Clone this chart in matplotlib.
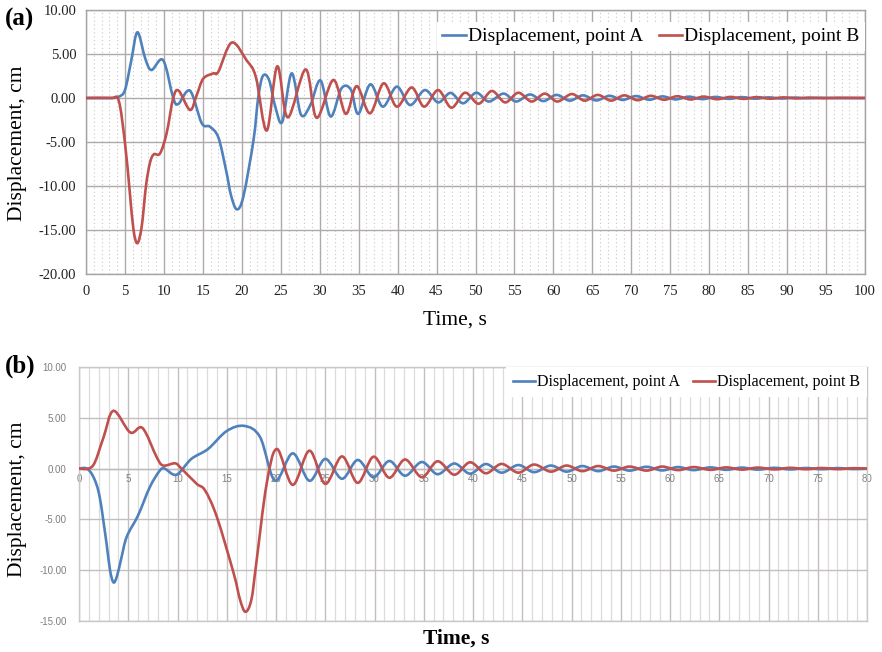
import numpy as np
import matplotlib
matplotlib.use("Agg")
import matplotlib.pyplot as plt
from matplotlib.path import Path
from matplotlib.patches import PathPatch
from matplotlib.lines import Line2D

# ---------------- data ----------------
# Panel (a)
a_t_A = [0, 3.2, 4.2, 5.0, 5.8, 6.6, 7.6, 8.4, 9.9, 11.2, 11.85, 13.35, 14.85, 15.9,
         17.0, 18.0, 18.6, 19.35, 20.2, 21.5, 22.1, 22.7, 23.5, 24.3, 25.2, 26.4, 27.6,
         28.8, 30.1, 31.4, 32.8, 34.0, 34.95, 36.5, 38.1, 39.9, 41.6, 43.5, 45.2, 46.8,
         48.4, 50.1, 51.7, 53.6, 55.2, 57.0, 58.7, 60.4, 62.1, 63.8, 65.5, 67.2, 68.9,
         70.6, 72.3, 74.0, 75.7, 77.4, 79.1, 80.8, 82.5, 84.2, 85.9, 87.6, 89.3, 91.0,
         92.7, 94.4, 96.1, 100]
a_v_A = [0, 0, 0.15, 0.9, 4.2, 7.47, 4.5, 3.18, 4.3, 0.0, -0.68, 0.83, -2.85, -3.26,
         -4.5, -8.3, -11.0, -12.65, -11.2, -4.8, 0.0, 2.5, 2.05, -1.0, -2.7, 2.8, -1.9,
         -0.8, 2.0, -2.1, 1.1, 0.95, -1.8, 1.55, -0.98, 1.29, -0.8, 0.9, -0.5, 0.58, -0.6,
         0.6, -0.4, 0.5, -0.4, 0.4, -0.35, 0.35, -0.3, 0.3, -0.28, 0.25, -0.22, 0.22,
         -0.2, 0.18, -0.16, 0.15, -0.13, 0.12, -0.1, 0.1, -0.08, 0.07, -0.06, 0.05, -0.04,
         0.03, -0.02, 0]

a_t_B = [0, 3.2, 4.2, 5.0, 5.6, 6.1, 6.6, 7.15, 7.7, 8.2, 8.7, 9.5, 10.35, 11.2, 11.9,
         13.35, 14.2, 15.05, 16.35, 17.0, 18.7, 20.6, 21.8, 23.2, 24.55, 25.9, 28.2, 29.6,
         31.75, 33.35, 34.75, 36.45, 38.2, 39.9, 41.8, 43.4, 45.2, 46.9, 48.65, 50.4,
         52.1, 53.8, 55.5, 57.2, 58.9, 60.5, 62.35, 64.0, 65.7, 67.4, 69.1, 70.8, 72.5,
         74.2, 75.9, 77.6, 79.3, 81.0, 82.7, 84.4, 86.1, 87.8, 89.5, 91.2, 92.9, 94.6,
         96.3, 100]
a_v_B = [0, 0, -0.3, -5.1, -10.5, -15.0, -16.5, -14.6, -10.0, -7.4, -6.4, -6.3, -4.0,
         0.0, 0.83, -1.36, 0.3, 2.2, 2.8, 3.0, 6.3, 4.3, 2.4, -3.7, 3.6, -2.2, 3.25,
         -2.25, 2.05, -1.8, 1.35, -1.74, 1.67, -0.98, 1.2, -0.98, 0.9, -1.1, 0.6, -0.65,
         0.8, -0.5, 0.6, -0.4, 0.5, -0.4, 0.45, -0.3, 0.35, -0.3, 0.3, -0.25, 0.25, -0.2,
         0.2, -0.17, 0.16, -0.14, 0.12, -0.1, 0.1, -0.08, 0.07, -0.05, 0.05, -0.03, 0.03,
         0]

# Panel (b)
b_t_A = [0, 0.8, 1.5, 2.1, 2.8, 3.15, 3.5, 3.85, 4.3, 4.85, 6.0, 7.2, 8.2, 8.7, 9.9,
         11.4, 13.1, 15.0, 16.8, 18.4, 19.9, 21.7, 23.4, 25.0, 26.7, 28.3, 29.9, 31.5,
         33.1, 34.8, 36.4, 38.1, 39.7, 41.3, 42.9, 44.6, 46.2, 47.9, 49.5, 51.1, 52.7,
         54.3, 55.9, 57.6, 59.2, 60.8, 62.4, 64.1, 65.7, 67.3, 68.9, 70.6, 72.2, 73.8,
         75.4, 77.0, 78.6, 80]
b_v_A = [0, 0, -0.9, -2.8, -7.4, -10.0, -11.2, -10.6, -8.8, -6.7, -4.6, -1.8, -0.2, 0.0,
         -0.6, 0.95, 1.93, 3.7, 4.2, 3.07, -1.18, 1.5, -1.2, 0.95, -1.0, 0.85, -0.85,
         0.75, -0.7, 0.65, -0.55, 0.5, -0.5, 0.45, -0.4, 0.35, -0.35, 0.3, -0.3, 0.25,
         -0.25, 0.2, -0.2, 0.18, -0.18, 0.15, -0.15, 0.12, -0.12, 0.1, -0.1, 0.08, -0.08,
         0.06, -0.06, 0.05, -0.04, 0]

b_t_B = [0, 0.95, 1.6, 2.5, 3.5, 5.2, 6.45, 7.9, 8.55, 9.75, 10.4, 11.95, 12.8, 14.0,
         15.7, 16.35, 16.9, 17.5, 18.0, 19.05, 20.1, 21.7, 23.4, 25.0, 26.7, 28.3, 29.9,
         31.5, 33.1, 34.8, 36.4, 38.1, 39.7, 41.3, 42.9, 44.6, 46.2, 47.9, 49.5, 51.1,
         52.7, 54.3, 55.9, 57.6, 59.2, 60.8, 62.4, 64.1, 65.7, 67.3, 68.9, 70.6, 72.2,
         73.8, 75.4, 77.0, 78.6, 80]
b_v_B = [0, 0, 0.6, 3.1, 5.69, 3.56, 3.99, 1.1, 0.3, 0.52, 0.0, -1.5, -2.15, -4.77,
         -10.3, -12.9, -14.1, -12.9, -9.3, -1.5, 1.93, -1.6, 1.76, -1.5, 1.2, -1.4, 1.17,
         -0.9, 0.9, -0.85, 0.72, -0.6, 0.62, -0.46, 0.46, -0.4, 0.4, -0.3, 0.3, -0.25,
         0.25, -0.2, 0.2, -0.2, 0.2, -0.15, 0.15, -0.12, 0.12, -0.1, 0.1, -0.08, 0.08,
         -0.06, 0.06, -0.05, 0.04, 0]

series_labels = ["Displacement, point A", "Displacement, point B"]
a_yticks = [10, 5, 0, -5, -10, -15, -20]
a_xticks = list(range(0, 101, 5))
b_yticks = [10, 5, 0, -5, -10, -15]
b_xticks = list(range(0, 81, 5))

# ---------------- styling ----------------
BLUE = "#4f81bd"
RED = "#c0504d"
LW = 1.9
SERIF = ["Liberation Serif", "DejaVu Serif"]
SANS = ["Liberation Sans", "DejaVu Sans"]


def smooth_line(ax, x, y, color, lw=LW):
    """Excel-like smoothed line (Catmull-Rom Bezier) through the data points."""
    pts = np.column_stack([x, y]).astype(float)
    verts = [pts[0]]
    codes = [Path.MOVETO]
    n = len(pts)
    for i in range(n - 1):
        p0 = pts[i - 1] if i > 0 else pts[i]
        p1 = pts[i]
        p2 = pts[i + 1]
        p3 = pts[i + 2] if i + 2 < n else pts[i + 1]
        verts += [p1 + (p2 - p0) / 6.0, p2 - (p3 - p1) / 6.0, p2]
        codes += [Path.CURVE4] * 3
    patch = PathPatch(Path(verts, codes), fill=False, edgecolor=color, lw=lw,
                      transform=ax.transData, zorder=3, capstyle="round",
                      joinstyle="round")
    ax.add_patch(patch)


W, H = 882, 652
fig = plt.figure(figsize=(W / 100, H / 100), dpi=100)
fig.patch.set_facecolor("white")


def box(l, t, r, b):
    return [l / W, 1 - b / H, (r - l) / W, (b - t) / H]


# ---------------- panel (a) ----------------
ax1 = fig.add_axes(box(86, 10, 865, 274))
ax1.set_xlim(0, 100)
ax1.set_ylim(-20, 10)
ax1.set_xticks(a_xticks)
ax1.set_xticklabels([str(v) for v in a_xticks], fontfamily=SERIF, fontsize=10.5,
                    color="#222222")
ax1.set_yticks(a_yticks)
ax1.set_yticklabels([f"{v:.2f}" for v in a_yticks], fontfamily=SERIF, fontsize=10.5,
                    color="#222222")
ax1.set_xticks(range(0, 101, 1), minor=True)
ax1.tick_params(axis="both", which="both", length=0)
ax1.tick_params(axis="y", pad=7)
ax1.tick_params(axis="x", pad=8)
ax1.grid(True, which="major", color="#b0a9a9", lw=1.0, zorder=0)
ax1.grid(True, which="minor", axis="x", color="#c8c8c8", lw=0.8,
         linestyle=(0, (1, 2.5)), zorder=0)
for s in ax1.spines.values():
    s.set_color("#a8a2a2")
    s.set_linewidth(1.0)
ax1.set_axisbelow(True)

smooth_line(ax1, a_t_A, a_v_A, BLUE)
smooth_line(ax1, a_t_B, a_v_B, RED)

handles = [Line2D([], [], color=BLUE, lw=LW), Line2D([], [], color=RED, lw=LW)]
leg1 = ax1.legend(handles, series_labels, loc="upper right",
                  bbox_to_anchor=(1.0, 0.955), borderaxespad=0, ncol=2,
                  frameon=True, fancybox=False, framealpha=1, edgecolor="none",
                  facecolor="white", handlelength=1.2, handletextpad=0.1,
                  columnspacing=0.8, borderpad=0.3,
                  prop={"family": SERIF, "size": 14})

fig.text(5 / W, 1 - 19 / H, "(a)", fontfamily=SERIF, fontsize=18,
         fontweight="bold", ha="left", va="center")
fig.text(455 / W, 1 - 320 / H, "Time, s", fontfamily=SERIF, fontsize=15.5,
         ha="center", va="center")
fig.text(18 / W, 1 - 143 / H, "Displacement, cm", fontfamily=SERIF, fontsize=15.5,
         ha="center", va="center", rotation=90)

# ---------------- panel (b) ----------------
ax2 = fig.add_axes(box(79, 367, 867, 621))
ax2.set_xlim(0, 80)
ax2.set_ylim(-15, 10)
ax2.set_yticks(b_yticks)
ax2.set_yticklabels([f"{v:.2f}" for v in b_yticks], fontfamily=SANS, fontsize=7,
                    color="#7f7f7f")
ax2.set_xticks(b_xticks)
ax2.set_xticks(range(0, 81, 1), minor=True)
ax2.set_xticklabels([])
ax2.tick_params(axis="both", which="both", length=0)
ax2.tick_params(axis="y", pad=9)
ax2.grid(True, which="minor", axis="x", color="#dcdcdc", lw=0.9, zorder=0)
ax2.grid(True, which="major", color="#c4bebe", lw=1.0, zorder=0)
for s in ax2.spines.values():
    s.set_color("#c8c8c8")
    s.set_linewidth(1.0)
ax2.axhline(0, color="#bdbdbd", lw=1.0, zorder=1)
ax2.set_axisbelow(True)
# x labels sit just under the zero line (axis crossing at 0)
for v in b_xticks:
    ax2.text(v, -0.55, str(v), fontfamily=SANS, fontsize=7, color="#7f7f7f",
             ha="center", va="top", zorder=2)

smooth_line(ax2, b_t_A, b_v_A, BLUE)
smooth_line(ax2, b_t_B, b_v_B, RED)

leg2 = ax2.legend(handles, series_labels, loc="upper right",
                  bbox_to_anchor=(1.0, 1.0), borderaxespad=0, ncol=2,
                  frameon=True, fancybox=False, framealpha=1, edgecolor="none",
                  facecolor="white", handlelength=1.4, handletextpad=0.1,
                  columnspacing=0.8, borderpad=0.45,
                  prop={"family": SERIF, "size": 11.5})

fig.text(5 / W, 1 - 366 / H, "(b)", fontfamily=SERIF, fontsize=18,
         fontweight="bold", ha="left", va="center")
fig.text(456 / W, 1 - 639 / H, "Time, s", fontfamily=SERIF, fontsize=15.5,
         fontweight="bold", ha="center", va="center")
fig.text(18 / W, 1 - 499 / H, "Displacement, cm", fontfamily=SERIF, fontsize=15.5,
         ha="center", va="center", rotation=90)

fig.savefig("out.png", dpi=100, facecolor="white")
